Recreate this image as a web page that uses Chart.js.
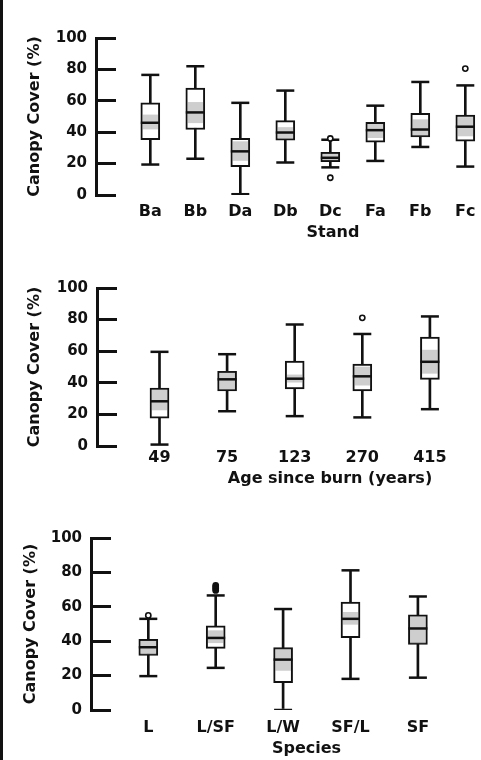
<!DOCTYPE html>
<html><head><meta charset="utf-8">
<script src="https://cdn.jsdelivr.net/npm/chart.js@4.4.1/dist/chart.umd.min.js"></script>
<style>
html,body{margin:0;padding:0;background:#fff;width:481px;height:760px;overflow:hidden;}
canvas.panel{position:absolute;left:0;}
#border{position:absolute;left:0;top:0;width:3px;height:760px;background:#111;z-index:5}
</style></head><body>
<div id="border"></div>
<canvas id="c1" class="panel" style="top:0px" width="570" height="245"></canvas>
<canvas id="c2" class="panel" style="top:250px" width="563" height="245"></canvas>
<canvas id="c3" class="panel" style="top:500px" width="522" height="260"></canvas>
<script>
// ---- Panel 1: Stand ----
const standLabels   = ['Ba','Bb','Da','Db','Dc','Fa','Fb','Fc'];
const standLow      = [19.4, 23.1, 0.5, 20.7, 17.6, 21.7, 30.6, 18.1];
const standQ1       = [35.2, 41.7, 18.0, 35.0, 21.3, 33.7, 37.0, 34.3];
const standMedian   = [46.0, 52.6, 27.8, 39.8, 23.7, 41.3, 41.7, 43.5];
const standQ3       = [58.7, 68.1, 36.1, 47.4, 27.2, 46.3, 52.0, 50.9];
const standHigh     = [76.5, 82.0, 58.7, 66.5, 35.2, 56.9, 72.0, 69.8];
const standShadeLo  = [42.0, 46.0, 22.0, 36.5, 22.0, 36.5, 37.6, 37.6];
const standShadeHi  = [51.0, 59.0, 34.0, 43.0, 26.5, 45.0, 48.0, 49.4];
const standOutLabel = ['Dc','Dc','Fc'];
const standOutValue = [11.0, 36.0, 80.5];

// ---- Panel 2: Age since burn ----
const ageLabels   = ['49','75','123','270','415'];
const ageLow      = [0.9, 22.0, 18.9, 18.1, 23.3];
const ageQ1       = [17.6, 34.8, 36.1, 34.8, 42.2];
const ageMedian   = [28.3, 42.2, 42.6, 44.1, 53.3];
const ageQ3       = [36.7, 47.2, 53.7, 51.9, 68.9];
const ageHigh     = [59.6, 58.1, 76.9, 70.9, 82.0];
const ageShadeLo  = [22.8, 35.7, 40.4, 38.5, 46.0];
const ageShadeHi  = [35.7, 46.8, 45.0, 50.0, 60.7];
const ageOutLabel = ['270'];
const ageOutValue = [81.1];

// ---- Panel 3: Species ----
const speciesLabels   = ['L','L/SF','L/W','SF/L','SF'];
const speciesLow      = [19.7, 24.5, 0.0, 18.1, 18.8];
const speciesQ1       = [31.7, 35.8, 15.9, 42.0, 38.2];
const speciesMedian   = [36.5, 41.9, 29.3, 53.0, 47.4];
const speciesQ3       = [41.1, 48.9, 36.3, 62.7, 55.3];
const speciesHigh     = [53.0, 66.6, 58.7, 81.2, 66.0];
const speciesShadeLo  = [32.3, 39.1, 23.0, 49.8, 38.7];
const speciesShadeHi  = [40.2, 46.1, 35.4, 56.8, 54.4];
const speciesOutLabel = ['L','L/SF','L/SF','L/SF','L/SF'];
const speciesOutValue = [55.0, 69.5, 70.5, 71.5, 72.5];

const yTitle = 'Canopy Cover (%)';
const yTicks = [0, 20, 40, 60, 80, 100];

const FONT = '"DejaVu Sans", "Liberation Sans", Arial, sans-serif';
const INK = '#111';

function boxChart(id, d, L) {
  const canvas = document.getElementById(id);
  const W = canvas.width, H = canvas.height;
  const n = d.labels.length;
  const idx = d.labels.map((_, i) => i);
  const xmin = -(L.firstCenter - L.axisX) / L.spacing;
  const xmax = xmin + (W - L.axisX) / L.spacing;
  const outPts = d.outLabel.map((l, k) => ({x:d.labels.indexOf(l), y:d.outValue[k]}));
  const outCount = x => outPts.filter(p => p.x === x).length;
  const datasets = [
    { type:'bar', data: idx.map(i => ({x:i, y:[d.low[i], d.high[i]]})),
      backgroundColor: INK, borderWidth:0, barThickness:2, grouped:false, order:6 },
    { type:'bar', data: idx.map(i => ({x:i, y:[d.q1[i], d.q3[i]]})),
      backgroundColor:'#fff', borderColor: INK, borderWidth:2, borderSkipped:false,
      barThickness:19, grouped:false, order:5 },
    { type:'bar', data: idx.map(i => ({x:i, y:[d.shLo[i], d.shHi[i]]})),
      backgroundColor:'rgba(110,110,110,0.34)', borderWidth:0, barThickness:15, grouped:false, order:4 },
    { type:'scatter', data: idx.map(i => ({x:i, y:d.med[i]})),
      pointStyle:'line', pointRadius:9.5, pointBorderWidth:2.5, pointBorderColor: INK, order:3 },
    { type:'scatter', data: idx.map(i => ({x:i, y:d.high[i]})).concat(idx.map(i => ({x:i, y:d.low[i]}))),
      pointStyle:'line', pointRadius:9, pointBorderWidth:2.5, pointBorderColor: INK, order:2 },
    { type:'scatter', data: outPts,
      pointStyle:'circle', pointRadius:2.6, pointBorderWidth:1.6, pointBorderColor: INK,
      pointBackgroundColor: c => (c.raw && outCount(c.raw.x) > 2) ? INK : '#fff', order:1 }
  ];
  return new Chart(canvas, {
    type:'bar',
    data:{ datasets },
    options:{
      responsive:false, animation:false, events:[],
      layout:{ autoPadding:false, padding:{ top:L.chartTop, left:0, right:0, bottom:0 } },
      plugins:{ legend:{display:false}, tooltip:{enabled:false} },
      scales:{
        x:{ type:'linear', min:xmin, max:xmax, offset:false,
          grid:{display:false, drawTicks:false}, border:{display:false},
          afterBuildTicks: s => { s.ticks = idx.map(i => ({value:i})); },
          ticks:{ autoSkip:false, maxRotation:0, padding:L.xTickPad, color:INK,
            font:{family:FONT, size:16, weight:'bold'},
            callback: v => (Number.isInteger(v) && v >= 0 && v < n) ? d.labels[v] : '' },
          title:{ display:true, text:d.title, color:INK,
            font:{family:FONT, size:16, weight:'bold'}, padding:{top:0, bottom:L.xTitlePad} },
          afterFit: s => { s.height = H - L.chartBottom; }
        },
        y:{ position:'left', min:0, max:100,
          afterBuildTicks: s => { s.ticks = yTicks.map(v => ({value:v})); },
          ticks:{ color:INK, padding:29, font:{family:FONT, size:15, weight:'bold'} },
          grid:{ drawOnChartArea:false, drawTicks:true, tickLength:-20, color:INK, lineWidth:3 },
          border:{ display:true, color:INK, width:3 },
          title:{ display:true, text:yTitle, color:INK,
            font:{family:FONT, size:16, weight:'bold'}, padding:{top:L.yTitlePad, bottom:0} },
          afterFit: s => { s.width = L.axisX; }
        }
      }
    }
  });
}

boxChart('c1', { labels:standLabels, low:standLow, q1:standQ1, med:standMedian, q3:standQ3, high:standHigh,
  shLo:standShadeLo, shHi:standShadeHi, outLabel:standOutLabel, outValue:standOutValue, title:'Stand' },
  { axisX:96, firstCenter:150.3, spacing:45, chartTop:15, chartBottom:195, yTitlePad:25.4, xTickPad:7.4, xTitlePad:2.1 });

boxChart('c2', { labels:ageLabels, low:ageLow, q1:ageQ1, med:ageMedian, q3:ageQ3, high:ageHigh,
  shLo:ageShadeLo, shHi:ageShadeHi, outLabel:ageOutLabel, outValue:ageOutValue, title:'Age since burn (years)' },
  { axisX:97, firstCenter:159.5, spacing:67.6, chartTop:15.7, chartBottom:196, yTitlePad:25, xTickPad:2.2, xTitlePad:6.4 });

boxChart('c3', { labels:speciesLabels, low:speciesLow, q1:speciesQ1, med:speciesMedian, q3:speciesQ3, high:speciesHigh,
  shLo:speciesShadeLo, shHi:speciesShadeHi, outLabel:speciesOutLabel, outValue:speciesOutValue, title:'Species' },
  { axisX:91, firstCenter:148.3, spacing:67.4, chartTop:29.3, chartBottom:210, yTitlePad:21.4, xTickPad:8.4, xTitlePad:1.6 });
</script>
</body></html>
